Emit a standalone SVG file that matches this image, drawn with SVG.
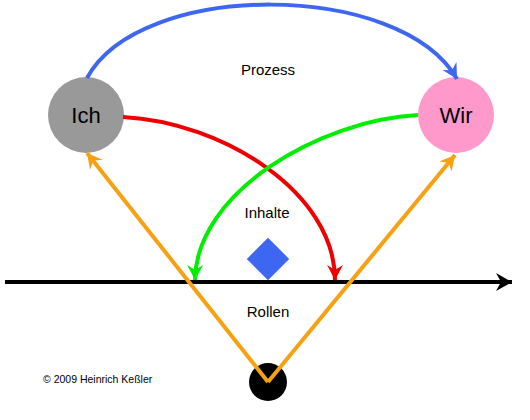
<svg xmlns="http://www.w3.org/2000/svg" width="530" height="420" viewBox="0 0 530 420">
<style>
  .lbl { font-family: "Liberation Sans", Arial, sans-serif; fill: #000; text-anchor: middle; }
  .node { font-size: 22px; }
  .mid { font-size: 15px; }
  .copy { font-family: "Liberation Sans", Arial, sans-serif; font-size: 10.5px; fill: #000; }
  .c { fill: none; stroke-width: 4; }
</style>
<defs>
  <marker id="ab" markerUnits="userSpaceOnUse" markerWidth="20" markerHeight="20" viewBox="-16 -10 20 20" refX="0" refY="0" orient="auto">
    <path d="M0,0 L-15,-8 L-10,0 L-15,8 Z" fill="#3d67f0"/>
  </marker>
  <marker id="ar" markerUnits="userSpaceOnUse" markerWidth="20" markerHeight="20" viewBox="-16 -10 20 20" refX="0" refY="0" orient="auto">
    <path d="M0,0 L-15,-8 L-10,0 L-15,8 Z" fill="#ee0000"/>
  </marker>
  <marker id="ag" markerUnits="userSpaceOnUse" markerWidth="20" markerHeight="20" viewBox="-16 -10 20 20" refX="0" refY="0" orient="auto">
    <path d="M0,0 L-15,-8 L-10,0 L-15,8 Z" fill="#00ee00"/>
  </marker>
  <marker id="ao" markerUnits="userSpaceOnUse" markerWidth="20" markerHeight="20" viewBox="-16 -10 20 20" refX="0" refY="0" orient="auto">
    <path d="M0,0 L-15,-8 L-10,0 L-15,8 Z" fill="#f7a012"/>
  </marker>
  <marker id="ak" markerUnits="userSpaceOnUse" markerWidth="20" markerHeight="20" viewBox="-18 -10 20 20" refX="0" refY="0" orient="auto">
    <path d="M0,0 L-16,-9 L-11,0 L-16,9 Z" fill="#000"/>
  </marker>
</defs>
<rect width="530" height="420" fill="#fff"/>

<g id="ich">
  <circle cx="86" cy="115" r="38" fill="#999999"/>
  <text class="lbl node" x="86" y="123">Ich</text>
</g>
<g id="wir">
  <circle cx="456" cy="115" r="38" fill="#ff99cc"/>
  <text class="lbl node" x="456" y="123">Wir</text>
</g>
<g id="inhalte">
  <rect x="253" y="244" width="30" height="30" fill="#3d67f0" transform="rotate(45 268 259)"/>
</g>
<g id="punkt">
  <circle cx="268" cy="382" r="19" fill="#000"/>
</g>

<g id="connectors">
  <path class="c" d="M5,282 L512,282" stroke="#000" stroke-width="4.5" marker-end="url(#ak)"/>
  <path class="c" d="M87,78 C140,-20 400,-20 457,79" stroke="#3d67f0" marker-end="url(#ab)"/>
  <path class="c" d="M123,117 C222,122 335,192 335,280" stroke="#ee0000" marker-end="url(#ar)"/>
  <path class="c" d="M418,115 C320,120 196,192 195,280" stroke="#00ee00" marker-end="url(#ag)"/>
  <path class="c" d="M268,382 L87,153" stroke="#f7a012" marker-end="url(#ao)"/>
  <path class="c" d="M268,382 L455,155" stroke="#f7a012" marker-end="url(#ao)"/>
</g>

<g id="labels">
  <text class="lbl mid" x="268" y="75">Prozess</text>
  <text class="lbl mid" x="267" y="218">Inhalte</text>
  <text class="lbl mid" x="268" y="317">Rollen</text>
  <text class="copy" x="43" y="383">© 2009 Heinrich Keßler</text>
</g>
</svg>
